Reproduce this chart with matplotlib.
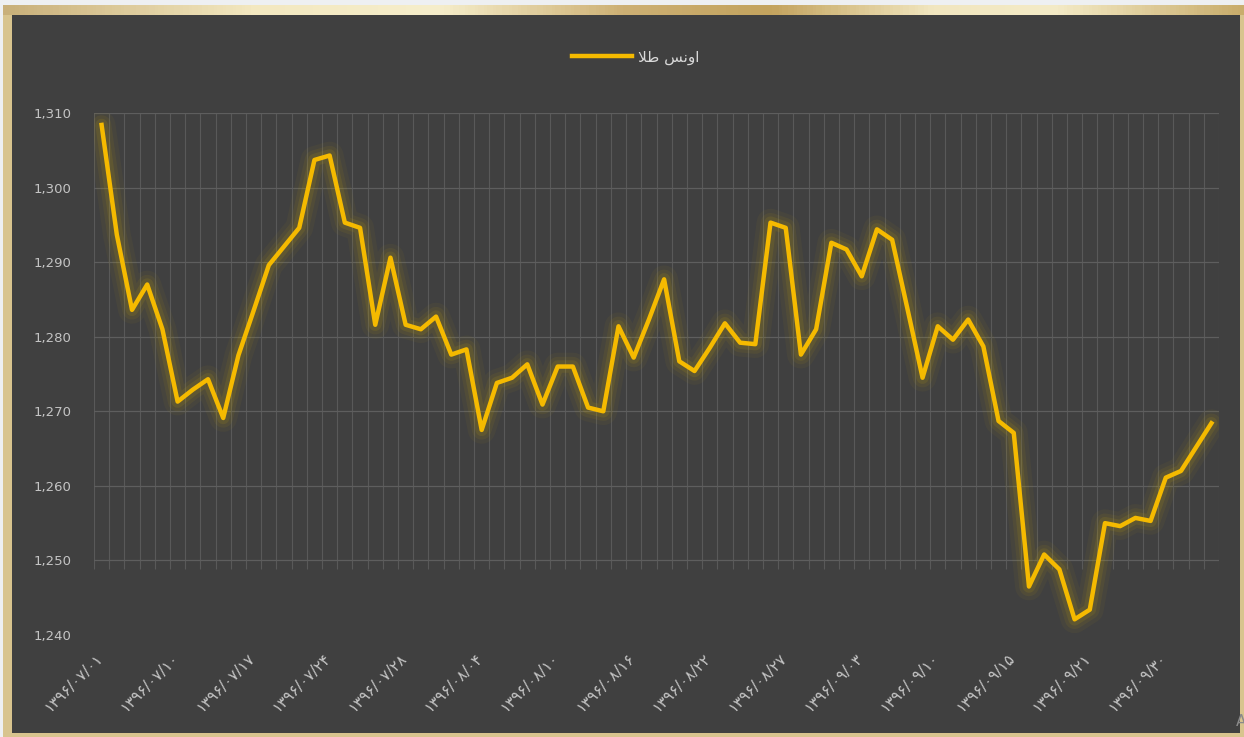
import numpy as np
import matplotlib
matplotlib.use("Agg")
import matplotlib.pyplot as plt
from matplotlib.patches import Rectangle
from matplotlib.colors import LinearSegmentedColormap
from matplotlib.transforms import ScaledTranslation

plt.rcParams['font.family'] = ['DejaVu Sans']

# gold ounce price (USD), daily
prices = [1308.4, 1293.7, 1283.6, 1287.0, 1281.0, 1271.3, 1272.9, 1274.3, 1269.1, 1277.5,
          1283.5, 1289.6, 1292.1, 1294.6, 1303.7, 1304.3, 1295.3, 1294.6, 1281.6, 1290.6,
          1281.6, 1281.0, 1282.7, 1277.6, 1278.3, 1267.5, 1273.8, 1274.5, 1276.3, 1270.9,
          1276.0, 1276.0, 1270.5, 1270.0, 1281.4, 1277.2, 1282.3, 1287.7, 1276.7, 1275.4,
          1278.5, 1281.8, 1279.2, 1279.0, 1295.3, 1294.6, 1277.6, 1281.0, 1292.6, 1291.7,
          1288.1, 1294.4, 1293.0, 1283.8, 1274.5, 1281.4, 1279.6, 1282.3, 1278.7, 1268.7,
          1267.1, 1246.5, 1250.8, 1248.8, 1242.1, 1243.4, 1255.0, 1254.6, 1255.7, 1255.3,
          1261.1, 1262.0, 1265.2, 1268.4]

date_labels = ['۱۳۹۶/۰۷/۰۱', '۱۳۹۶/۰۷/۱۰', '۱۳۹۶/۰۷/۱۷', '۱۳۹۶/۰۷/۲۴', '۱۳۹۶/۰۷/۲۸',
               '۱۳۹۶/۰۸/۰۴', '۱۳۹۶/۰۸/۱۰', '۱۳۹۶/۰۸/۱۶', '۱۳۹۶/۰۸/۲۲', '۱۳۹۶/۰۸/۲۷',
               '۱۳۹۶/۰۹/۰۳', '۱۳۹۶/۰۹/۱۰', '۱۳۹۶/۰۹/۱۵', '۱۳۹۶/۰۹/۲۱', '۱۳۹۶/۰۹/۳۰']
label_step = 5

# "اونس طلا" in presentation forms, visual order (no shaping in matplotlib)
series_name = '\uFEFC\uFEC3 \uFEB2\uFEE7\uFEED\uFE8D'

W, H = 1244, 737
fig = plt.figure(figsize=(W / 100, H / 100), dpi=100)
fig.patch.set_facecolor('#eef0f2')

# gold frame + dark panel, kept below the axes
fig.patches.append(Rectangle((3 / W, 0), 1 - 3 / W, 1 - 5 / H, transform=fig.transFigure,
                             facecolor='#d8c48e', edgecolor='none', zorder=-3))
fig.patches.append(Rectangle((12 / W, 4 / H), 1 - 16 / W, 1 - 19 / H, transform=fig.transFigure,
                             facecolor='#404040', edgecolor='none', zorder=-2))
band = fig.add_axes([3 / W, 1 - 15 / H, 1 - 3 / W, 10 / H])
gold = LinearSegmentedColormap.from_list('gold', [(0, '#c9b07a'), (0.2, '#f3e8c0'), (0.35, '#f6eecb'),
                                                  (0.5, '#cdb074'), (0.62, '#c3a35e'), (0.75, '#f1e6bf'),
                                                  (0.85, '#f4ebc7'), (1, '#c9ad6c')])
band.imshow(np.linspace(0, 1, 400)[None, :], aspect='auto', cmap=gold, extent=(0, 1, 0, 1))
band.axis('off')

ax = fig.add_axes([94 / W, 1 - 635 / H, 1125 / W, 522 / H])
ax.set_facecolor('none')
x = np.arange(len(prices))

# vertical gridlines between categories
ax.vlines(np.arange(len(prices) + 1) - 0.5, 1248.8, 1310, color='#595959', lw=0.8, zorder=0)
ax.set_yticks(np.arange(1240, 1311, 10))
ax.yaxis.grid(True, color='#5e5e5e', lw=0.9, zorder=0)
ax.get_ygridlines()[0].set_visible(False)

# soft glow under the line
for lw, a in [(20, 0.06), (14, 0.09), (9, 0.14)]:
    ax.plot(x, prices, color='#b89a10', lw=lw, alpha=a, solid_joinstyle='round',
            solid_capstyle='round', zorder=2)
ax.plot(x, prices, color='#f5ba00', lw=3.2, solid_joinstyle='round', zorder=3, label=series_name)

ax.set_xlim(-0.5, len(prices) - 0.5)
ax.set_ylim(1240, 1310)
ax.yaxis.set_major_formatter(matplotlib.ticker.FuncFormatter(lambda v, p: f'{v:,.0f}'))
ax.set_xticks(x[::label_step])
ax.set_xticklabels(date_labels, rotation=45, ha='right', va='top', rotation_mode='anchor',
                   fontsize=11, color='#c4c4c4')
ax.tick_params(axis='x', length=0, pad=11)
ax.tick_params(axis='y', length=0, pad=16, labelsize=9.5, labelcolor='#c4c4c4')
shift = ScaledTranslation(-6 / 100, 0, fig.dpi_scale_trans)
for lbl in ax.get_xticklabels():
    lbl.set_transform(lbl.get_transform() + shift)
for s in ax.spines.values():
    s.set_visible(False)

leg = fig.legend(loc='center', bbox_to_anchor=(636 / W, 1 - 57 / H), frameon=False,
                 fontsize=11, handlelength=3.9, handletextpad=0.4)
for t in leg.get_texts():
    t.set_color('#d9d9d9')

fig.text(1236 / W, 1 - 722 / H, 'A', color='#8a8a8a', fontsize=11, va='center', ha='left')

fig.savefig('out.png', dpi=100, facecolor=fig.get_facecolor())
